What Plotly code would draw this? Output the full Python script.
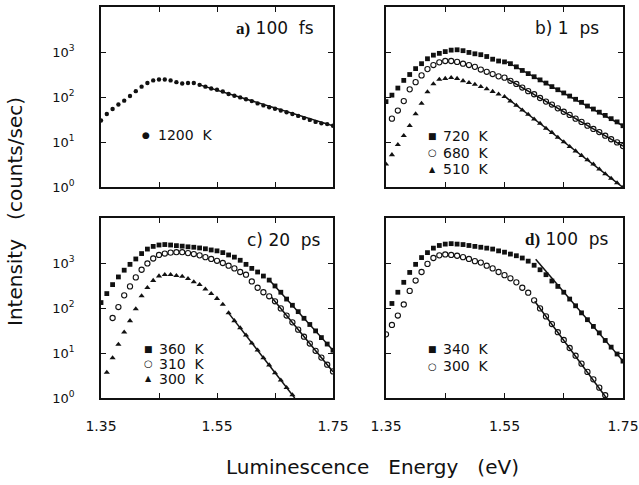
import plotly.graph_objects as go

# ---------------- data ----------------
energy_eV = [1.35, 1.36, 1.37, 1.38, 1.39, 1.40, 1.41, 1.42, 1.43, 1.44,
             1.45, 1.46, 1.47, 1.48, 1.49, 1.50, 1.51, 1.52, 1.53, 1.54,
             1.55, 1.56, 1.57, 1.58, 1.59, 1.60, 1.61, 1.62, 1.63, 1.64,
             1.65, 1.66, 1.67, 1.68, 1.69, 1.70, 1.71, 1.72, 1.73, 1.74, 1.75]

# a) 100 fs
a_1200K = [30, 42, 54, 68, 83, 105, 135, 170, 204, 234, 245, 245, 234, 214, 200, 204,
           204, 186, 170, 155, 145, 132, 117, 107, 98, 89, 81, 72, 65, 59, 55, 50, 46,
           42, 38, 34, 31, 28, 26, 25, 23]
# b) 1 ps
b_720K = [79, 110, 158, 234, 316, 427, 550, 708, 851, 933, 1020, 1100, 1120, 1070, 977,
          912, 871, 794, 692, 631, 603, 550, 468, 389, 331, 282, 240, 204, 170, 145, 123,
          105, 89, 76, 63, 54, 46, 39, 33, 28, 23]
b_680K = [None, 33, 50, 81, 148, 214, 302, 417, 513, 589, 631, 631, 603, 550, 513, 468,
          407, 363, 324, 288, 269, 229, 195, 162, 135, 115, 95, 79, 68, 56, 47, 40, 33,
          28, 23, 19.5, 16.6, 13.8, 11.5, 9.8, 8.1]
b_510K = [3.2, 5.2, 8.7, 13.8, 23, 42, 72, 129, 195, 245, 257, 269, 257, 229, 209, 191,
          170, 151, 132, 115, 102, 81, 65, 51, 41, 32, 26, 20, 16.2, 12.6, 10, 7.9, 6.3,
          5.0, 4.0, 3.2, 2.5, 1.95, 1.55, 1.23, 0.98]
# c) 20 ps
c_360K = [132, 209, 331, 490, 692, 933, 1230, 1620, 2040, 2340, 2510, 2570, 2510, 2430,
          2370, 2290, 2240, 2160, 2070, 1950, 1860, 1700, 1510, 1350, 1150, 933, 759, 631,
          513, 417, 309, 224, 158, 115, 83, 59, 43, 31, 22, 15.8, 11.5]
c_310K = [None, None, 60, 105, 191, 302, 479, 708, 977, 1260, 1510, 1620, 1700, 1740,
          1740, 1660, 1580, 1480, 1350, 1230, 1120, 1000, 871, 759, 631, 550, 389, 282,
          224, 182, 141, 98, 68, 48, 33, 23, 16.2, 11.2, 7.9, 5.5, 3.9]
c_300K = [None, 3.7, 7.8, 15.5, 29, 52, 95, 186, 282, 407, 513, 550, 550, 525, 501, 447,
          380, 331, 263, 209, 162, 120, 78, 52, 36, 25, 16.6, 11.5, 7.8, 5.4, 3.6, 2.5,
          1.7, 1.17, None, None, None, None, None, None, None]
# d) 100 ps
d_340K = [None, 126, 224, 372, 617, 933, 1320, 1700, 2140, 2450, 2630, 2690, 2630, 2570,
          2450, 2340, 2240, 2140, 2040, 1860, 1740, 1580, 1450, 1290, 1100, 891, 708, 550,
          398, 302, 224, 158, 112, 78, 55, 39, 28, 19, 13.5, 9.5, 6.6]
d_300K = [26, 42, 68, 120, 240, 407, 631, 955, 1290, 1480, 1550, 1510, 1450, 1350, 1230,
          1100, 1020, 871, 759, 631, 537, 457, 372, 282, 219, 148, 98, 65, 44, 29, 19.5,
          12.9, 8.7, 5.8, 3.8, 2.6, 1.7, 1.15, None, None, None]

# straight-line fits (Maxwell-Boltzmann tails): [start, end]
fit_a_1200K_E, fit_a_1200K_I = [1.52, 1.75], [186, 23]
fit_b_720K_E, fit_b_720K_I = [1.554, 1.75], [603, 23]
fit_b_680K_E, fit_b_680K_I = [1.553, 1.75], [260, 8.1]
fit_b_510K_E, fit_b_510K_I = [1.553, 1.75], [97, 0.98]
fit_c_360K_E, fit_c_360K_I = [1.641, 1.75], [407, 11.5]
fit_c_310K_E, fit_c_310K_I = [1.644, 1.75], [174, 3.85]
fit_c_300K_E, fit_c_300K_I = [1.569, 1.684], [80, 1.0]
fit_d_340K_E, fit_d_340K_I = [1.6026, 1.75], [1205, 6.6]
fit_d_300K_E, fit_d_300K_I = [1.601, 1.722], [141, 1.0]

x_tickvals = [1.35, 1.55, 1.75]
x_ticktext = ["1.35", "1.55", "1.75"]
x_minor_ticks = [1.45, 1.65]
y_tickvals = [1, 10, 100, 1000]
y_ticktext = ["10<sup>0</sup>", "10<sup>1</sup>", "10<sup>2</sup>", "10<sup>3</sup>"]

# ---------------- layout helpers ----------------
W, H = 639, 485
def px(x):
    return x / W
def py(y):
    return 1 - y / H

FONT = "DejaVu Sans"
INK = "#111111"

fig = go.Figure()

panels = {
    "a": ("x", "y"),
    "b": ("x2", "y2"),
    "c": ("x3", "y3"),
    "d": ("x4", "y4"),
}

sym = {
    "sq": dict(symbol="square", size=4.8, color=INK, line=dict(width=0)),
    "oc": dict(symbol="circle-open", size=5.2, color=INK, line=dict(width=1.1, color=INK)),
    "tr": dict(symbol="triangle-up", size=5.4, color=INK, line=dict(width=0)),
    "dot": dict(symbol="circle", size=4.4, color=INK, line=dict(width=0)),
}

series = [
    ("a", a_1200K, "dot", "1200 K"),
    ("b", b_720K, "sq", "720 K"),
    ("b", b_680K, "oc", "680 K"),
    ("b", b_510K, "tr", "510 K"),
    ("c", c_360K, "sq", "360 K"),
    ("c", c_310K, "oc", "310 K"),
    ("c", c_300K, "tr", "300 K"),
    ("d", d_340K, "sq", "340 K"),
    ("d", d_300K, "oc", "300 K"),
]
fits = [
    ("a", fit_a_1200K_E, fit_a_1200K_I),
    ("b", fit_b_720K_E, fit_b_720K_I),
    ("b", fit_b_680K_E, fit_b_680K_I),
    ("b", fit_b_510K_E, fit_b_510K_I),
    ("c", fit_c_360K_E, fit_c_360K_I),
    ("c", fit_c_310K_E, fit_c_310K_I),
    ("c", fit_c_300K_E, fit_c_300K_I),
    ("d", fit_d_340K_E, fit_d_340K_I),
    ("d", fit_d_300K_E, fit_d_300K_I),
]

for p, ex, ey in fits:
    xa, ya = panels[p]
    fig.add_trace(go.Scatter(x=ex, y=ey, mode="lines", xaxis=xa, yaxis=ya,
                             line=dict(color=INK, width=1.5), showlegend=False,
                             hoverinfo="skip"))
for p, vals, s, name in series:
    xa, ya = panels[p]
    fig.add_trace(go.Scatter(x=energy_eV, y=vals, mode="markers", xaxis=xa, yaxis=ya,
                             marker=sym[s], name=name, showlegend=False))

# axes
xdom = {"a": [px(101), px(333)], "b": [px(386), px(623)],
        "c": [px(101), px(333)], "d": [px(386), px(623)]}
ydom = {"a": [py(187), py(7)], "b": [py(187), py(7)],
        "c": [py(398), py(218)], "d": [py(398), py(218)]}

common = dict(showline=True, linewidth=1.8, linecolor=INK, mirror="ticks",
              ticks="inside", ticklen=5, tickwidth=1.3, tickcolor=INK,
              showgrid=False, zeroline=False, automargin=False)

for p, (xa, ya) in panels.items():
    xkey = "xaxis" if xa == "x" else "xaxis" + xa[1:]
    ykey = "yaxis" if ya == "y" else "yaxis" + ya[1:]
    bottom = p in ("c", "d")
    left = p in ("a", "c")
    fig.update_layout(**{
        xkey: dict(common, domain=xdom[p], anchor=ya, range=[1.35, 1.75],
                   tickvals=x_tickvals, ticktext=x_ticktext,
                   showticklabels=bottom,
                   tickfont=dict(family=FONT, size=14, color=INK),
                   ticklabelstandoff=14,
                   minor=dict(tickvals=x_minor_ticks, ticks="inside", ticklen=5,
                              tickwidth=1.3, tickcolor=INK, showgrid=False)),
        ykey: dict(common, domain=ydom[p], anchor=xa, type="log", range=[0, 4],
                   tickvals=y_tickvals, ticktext=y_ticktext,
                   showticklabels=left,
                   tickfont=dict(family=FONT, size=13, color=INK),
                   ticklabelstandoff=22),
    })

annotations = []
def note(text, x, y, xanchor="left", size=15, **kw):
    annotations.append(dict(text=text, x=px(x), y=py(y), xref="paper", yref="paper",
                            xanchor=xanchor, yanchor="middle", showarrow=False,
                            font=dict(family=FONT, size=size, color=INK), **kw))

NB = "\u00a0"
# panel titles
serif_b = lambda s: "<span style='font-family:Liberation Serif'><b>" + s + "</b></span>"
note(serif_b("a)") + NB + "100" + NB + NB + "fs", 316, 28, xanchor="right", size=17)
note("b)" + NB + "1" + NB + NB + "ps", 601, 28, xanchor="right", size=17)
note("c)" + NB + "20" + NB + NB + "ps", 323, 240, xanchor="right", size=17)
note(serif_b("d)") + NB + "100" + NB + NB + "ps", 611, 239, xanchor="right", size=17)

# legends (marker glyph + label)
glyph = {"sq": ("\u25a0", 9), "oc": ("\u25cb", 10), "tr": ("\u25b2", 8), "dot": ("\u25cf", 9)}
legend_rows = [
    ("dot", "1200 K", 146, 156, 135),
    ("sq", "720 K", 432, 441, 136),
    ("oc", "680 K", 432, 441, 152.5),
    ("tr", "510 K", 432, 441, 169),
    ("sq", "360 K", 148, 157, 348.5),
    ("oc", "310 K", 148, 157, 363.5),
    ("tr", "300 K", 148, 157, 378.5),
    ("sq", "340 K", 432, 441, 349),
    ("oc", "300 K", 432, 441, 366),
]
for s, label, mx, tx, yy in legend_rows:
    g, gs = glyph[s]
    note(g, mx, yy, xanchor="center", size=gs)
    note(label.replace(" ", NB + NB), tx, yy, size=14)

# axis titles
note("Luminescence" + NB * 3 + "Energy" + NB * 3 + "(eV)", 372, 467,
     xanchor="center", size=20)
note("Intensity" + NB * 3 + "(counts/sec)", 15, 212, xanchor="center", size=20,
     textangle=-90)

fig.update_layout(width=W, height=H, margin=dict(l=0, r=0, t=0, b=0),
                  template="none",
                  paper_bgcolor="white", plot_bgcolor="white",
                  annotations=annotations, showlegend=False)

fig.write_html(
    "out.html",
    config={"displayModeBar": False},
    post_script="document.body.style.margin='0px';"
                "document.documentElement.style.overflow='hidden';",
)
